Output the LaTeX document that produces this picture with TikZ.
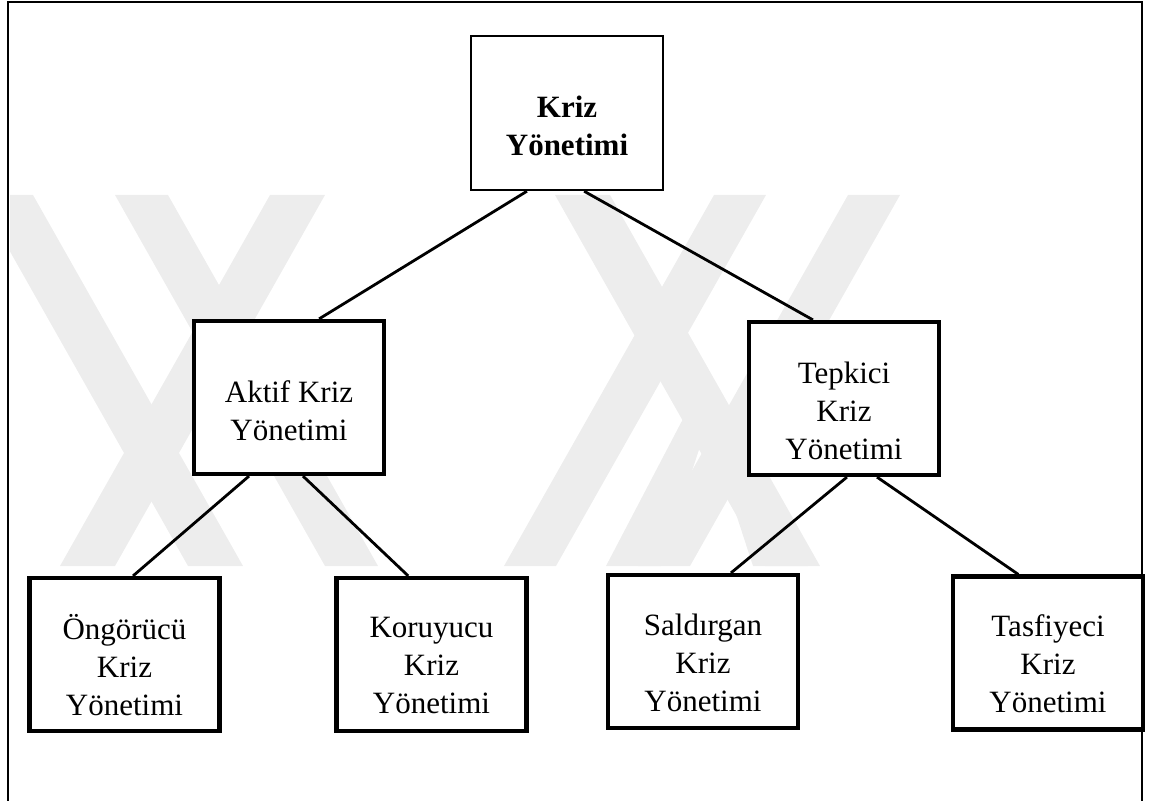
\documentclass[tikz,border=0pt]{standalone}
\usepackage{fontspec}
\setmainfont{Liberation Serif}
\usetikzlibrary{calc}

\tikzset{
  box/.style={draw=black, fill=white, rectangle, inner sep=0pt,
              minimum width=95pt, minimum height=76.5pt, line width=2.1pt},
  rootbox/.style={box, line width=1.2pt, minimum width=96pt, minimum height=77pt},
  txt/.style={align=center, inner sep=0pt,
              font=\fontsize{15.5pt}{19pt}\selectfont},
  link/.style={draw=black, line width=1.4pt},
  frameline/.style={draw=black, line width=1.35pt},
  logoband/.style={fill=black!7, draw=none},
}

\begin{document}
\begin{tikzpicture}[x=0.5pt, y=-0.5pt]
  \useasboundingbox (0,0) rectangle (1154,801);

  % faint logo in the background: steep stripes between y=195 and y=566
  \begin{scope}
    \clip (10,195) rectangle (1140,566);
    % stripes falling to the right
    \fill[logoband] (-22,195) -- (33,195) -- (243,566) -- (188,566) -- cycle;
    \fill[logoband] (115,195) -- (168,195) -- (378,566) -- (325,566) -- cycle;
    \fill[logoband] (555,195) -- (610,195) -- (820,566) -- (765,566) -- cycle;
    % stripes falling to the left
    \fill[logoband] (270,195) -- (325,195) -- (115,566) -- (60,566) -- cycle;
    \fill[logoband] (714,195) -- (766,195) -- (556,566) -- (504,566) -- cycle;
    \fill[logoband] (848,195) -- (900,195) -- (690,566) -- (638,566) -- cycle;
    % pointed arch
    \fill[logoband] (606,566) -- (707,373) -- (808,566) -- (753,566)
                -- (707,425) -- (661,566) -- cycle;
  \end{scope}

  % open frame
  \draw[frameline] (8,805) -- (8,2) -- (1142,2) -- (1142,805);

  % boxes
  \node[rootbox] (root) at (567,113) {};
  \node[box] (aktif) at (289,397.5) {};
  \node[box] (tepki) at (844,398.5) {};
  \node[box] (ongor) at (124.5,654.5) {};
  \node[box] (koru)  at (431.5,654.5) {};
  \node[box] (sald)  at (703,651.5) {};
  \node[box] (tasf)  at (1048,653) {};

  % labels
  \node[txt, font=\fontsize{15.5pt}{19pt}\selectfont\bfseries] (root-t) at ($(root.center)+(0,13)$) {Kriz\\Yönetimi};
  \node[txt] (aktif-t) at ($(aktif.center)+(0,13)$) {Aktif Kriz\\Yönetimi};
  \node[txt] (tepki-t) at ($(tepki.center)+(0,12)$) {Tepkici\\Kriz\\Yönetimi};
  \node[txt] (ongor-t) at ($(ongor.center)+(0,11)$) {Öngörücü\\Kriz\\Yönetimi};
  \node[txt] (koru-t)  at ($(koru.center)+(0,11)$) {Koruyucu\\Kriz\\Yönetimi};
  \node[txt] (sald-t)  at ($(sald.center)+(0,11)$) {Saldırgan\\Kriz\\Yönetimi};
  \node[txt] (tasf-t)  at ($(tasf.center)+(0,11)$) {Tasfiyeci\\Kriz\\Yönetimi};

  % connectors
  \draw[link] ($(root.south west)!0.294!(root.south east)$) -- ($(aktif.north west)!0.655!(aktif.north east)$);
  \draw[link] ($(root.south west)!0.588!(root.south east)$) -- ($(tepki.north west)!0.34!(tepki.north east)$);
  \draw[link] ($(aktif.south west)!0.294!(aktif.south east)$) -- ($(ongor.north west)!0.544!(ongor.north east)$);
  \draw[link] ($(aktif.south west)!0.572!(aktif.south east)$) -- ($(koru.north west)!0.38!(koru.north east)$);
  \draw[link] ($(tepki.south west)!0.515!(tepki.south east)$) -- ($(sald.north west)!0.644!(sald.north east)$);
  \draw[link] ($(tepki.south west)!0.67!(tepki.south east)$) -- ($(tasf.north west)!0.347!(tasf.north east)$);
\end{tikzpicture}
\end{document}
